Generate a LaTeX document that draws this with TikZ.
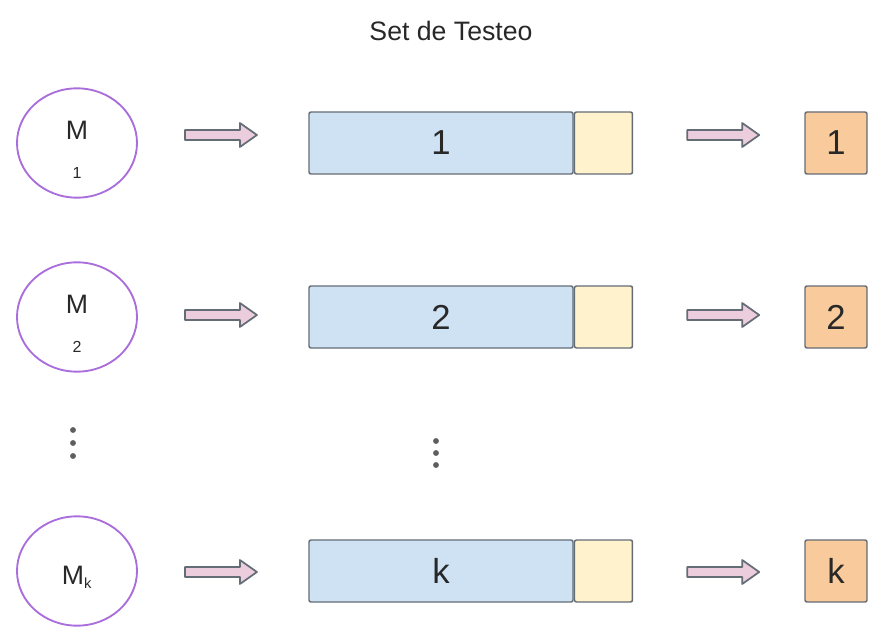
\documentclass[tikz,border=0pt]{standalone}
\usepackage{fontspec}
\setmainfont{Liberation Sans}
\usetikzlibrary{shapes.geometric}

\definecolor{morado}{RGB}{170,110,220}
\definecolor{celeste}{RGB}{207,226,243}
\definecolor{crema}{RGB}{255,242,204}
\definecolor{naranja}{RGB}{249,203,156}
\definecolor{rosa}{RGB}{236,205,222}
\definecolor{borde}{RGB}{100,108,118}
\definecolor{texto}{RGB}{40,40,40}

\begin{document}
\begin{tikzpicture}[x=0.75pt,y=-0.75pt,text=texto,
    modelo/.style={ellipse,draw=morado,line width=1.4pt,minimum width=90pt,minimum height=82pt,inner sep=0pt},
    caja/.style={draw=borde,line width=1.1pt,rounded corners=1.5pt,inner sep=0pt,minimum height=46.5pt,font=\fontsize{26}{30}\selectfont},
    flecha/.style={draw=borde,line width=1.3pt,fill=rosa,line join=round}]
  \useasboundingbox (0,0) rectangle (874,627);

  \node[font=\fontsize{20}{24}\selectfont] (titulo) at (451,31) {Set de Testeo};

  \foreach \n/\y/\dy/\lab in {1/143/-8/{M\\[5pt]{\fontsize{12}{12}\selectfont 1}},
                              2/317/-2/{M\\[5pt]{\fontsize{12}{12}\selectfont 2}},
                              k/571/1/{M\textsubscript{\fontsize{11}{11}\selectfont k}}} {
    \node[modelo] (m\n) at (77,\y) {};
    \node[font=\fontsize{20}{24}\selectfont,align=center] (t\n) at ([yshift=-5pt]m\n.center) {\lab};
    \node[caja,fill=celeste,minimum width=198pt] (s\n) at (441,\y) {\n};
    \node[caja,fill=crema,minimum width=43.5pt,anchor=west] (e\n) at (s\n.east) {};
    \node[caja,fill=naranja,minimum width=46.5pt] (r\n) at (836,\y) {\n};
    % flechas de bloque
    \draw[flecha] ([shift={(47,\dy-5)}]m\n.east) -- ++(55,0) -- ++(0,-7) -- ++(17,12)
      -- ++(-17,12) -- ++(0,-7) -- ++(-55,0) -- cycle;
    \draw[flecha] ([shift={(54,\dy-5)}]e\n.east) -- ++(55,0) -- ++(0,-7) -- ++(17,12)
      -- ++(-17,12) -- ++(0,-7) -- ++(-55,0) -- cycle;
  }

  % puntos suspensivos
  \foreach \d in {0,1,2} {
    \fill[texto!75] (73,430+13*\d) circle (2.2pt);
    \fill[texto!75] (436,441+12*\d) circle (2.2pt);
  }
\end{tikzpicture}
\end{document}
